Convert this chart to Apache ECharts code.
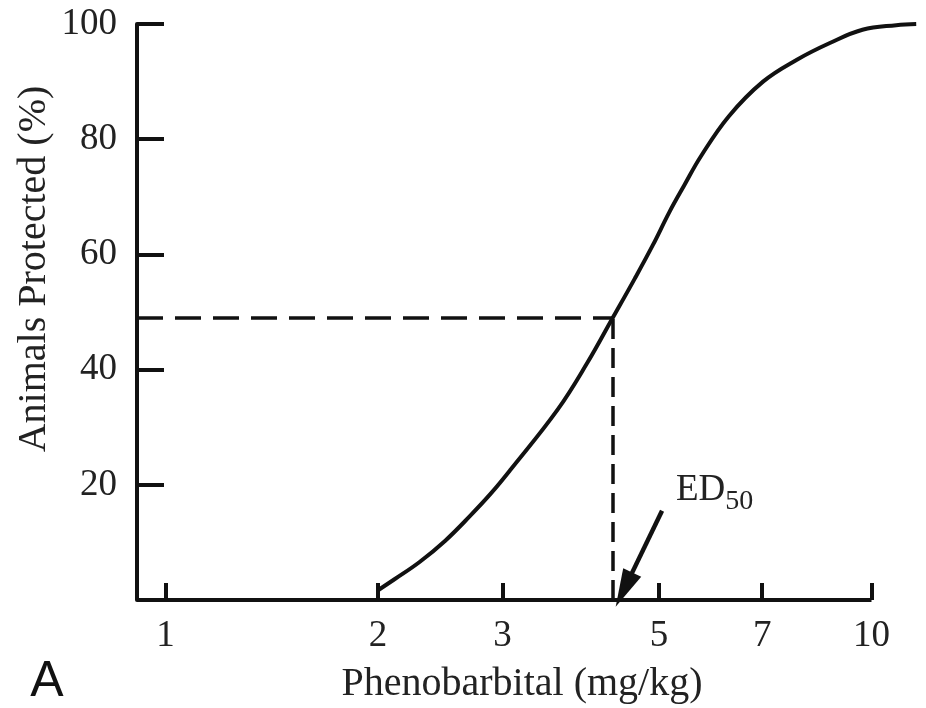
<!DOCTYPE html>
<html>
<head>
<meta charset="utf-8">
<title>Phenobarbital dose-response</title>
<script src="https://cdn.jsdelivr.net/npm/echarts@6.0.0/dist/echarts.min.js"></script>
<style>
  html, body { margin: 0; padding: 0; background: #fff; }
  #chart { width: 926px; height: 708px; }
</style>
</head>
<body>
<div id="chart"></div>
<script>
// dose (mg/kg) and % animals protected
const doses = [2.00, 2.11, 2.29, 2.49, 2.70, 2.89, 3.08, 3.59, 3.95, 4.30, 4.62, 4.90, 5.17, 5.43, 5.73, 6.28, 7.02, 7.84, 8.73, 9.71, 10.84, 11.57]
const protectedPct = [1.7, 3.6, 6.6, 10.3, 14.6, 18.5, 22.6, 33.0, 41.0, 49.0, 55.8, 61.6, 67.3, 72.0, 77.0, 84.0, 90.0, 93.8, 96.7, 99.0, 99.8, 100]
const xTicks = [1, 2, 3, 5, 7, 10]
const ed50Dose = 4.30
const ed50Pct = 49
// ED50 arrow, tail -> head
const arrowFrom = [5.05, 15.5]
const arrowTo = [4.46, 1.8]
// the curve runs a bit past the last tick, the axis line stops at 10
const xMin = 0.911
const xMax = 11.6
const axisEnd = 10

const serif = '"Liberation Serif", "Times New Roman", serif'
const ink = '#111'
const textInk = '#222'

const chartDom = document.getElementById('chart')
const myChart = echarts.init(chartDom)

const curve = doses.map((d, i) => [d, protectedPct[i]])

let option = {
  animation: false,
  grid: {
    left: 137,
    right: 9,
    top: 24,
    bottom: 108,
    outerBoundsMode: 'none'
  },
  xAxis: {
    type: 'log',
    logBase: 10,
    min: xMin,
    max: xMax,
    axisLine: { show: false },
    axisTick: {
      show: true,
      inside: true,
      length: 17,
      customValues: xTicks,
      lineStyle: { color: ink, width: 4 }
    },
    axisLabel: {
      customValues: xTicks,
      margin: 18,
      fontSize: 37,
      fontFamily: serif,
      color: textInk
    },
    splitLine: { show: false },
    minorTick: { show: false }
  },
  yAxis: {
    type: 'value',
    min: 0,
    max: 100,
    interval: 20,
    axisLine: { show: true, lineStyle: { color: ink, width: 4 } },
    axisTick: {
      show: true,
      inside: true,
      length: 27,
      lineStyle: { color: ink, width: 4 }
    },
    axisLabel: {
      margin: 20,
      fontSize: 37,
      fontFamily: serif,
      color: textInk,
      formatter: function (v) { return v === 0 ? '' : String(v) }
    },
    splitLine: { show: false }
  },
  series: [
    {
      name: 'Animals Protected',
      type: 'line',
      data: curve,
      smooth: 0.4,
      showSymbol: false,
      clip: false,
      lineStyle: { color: ink, width: 4 },
      markLine: {
        silent: true,
        animation: false,
        symbol: 'none',
        label: { show: false },
        data: [
          // x axis line, stopping at the last tick
          [
            { coord: [xMin, 0], lineStyle: { color: ink, width: 4, type: 'solid' } },
            { coord: [axisEnd, 0] }
          ],
          [
            { coord: [xMin, ed50Pct], lineStyle: { color: ink, width: 3.5, type: [26, 12] } },
            { coord: [ed50Dose, ed50Pct] }
          ],
          [
            { coord: [ed50Dose, 0], lineStyle: { color: ink, width: 3.5, type: [20, 9] } },
            { coord: [ed50Dose, ed50Pct] }
          ],
          [
            { coord: arrowFrom, symbol: 'none', lineStyle: { color: ink, width: 4.5, type: 'solid' } },
            { coord: arrowTo, symbol: 'triangle', symbolSize: [20, 38] }
          ]
        ]
      }
    }
  ],
  graphic: [
    {
      type: 'text',
      x: 34,
      y: 269,
      rotation: Math.PI / 2,
      style: {
        text: 'Animals Protected (%)',
        font: '40px ' + serif,
        fill: textInk,
        align: 'center',
        verticalAlign: 'middle'
      }
    },
    {
      type: 'text',
      x: 522,
      y: 684,
      style: {
        text: 'Phenobarbital (mg/kg)',
        font: '40px ' + serif,
        fill: textInk,
        align: 'center',
        verticalAlign: 'middle'
      }
    },
    {
      type: 'text',
      x: 47,
      y: 682,
      style: {
        text: 'A',
        font: '50px "Liberation Sans", Arial, sans-serif',
        fill: ink,
        align: 'center',
        verticalAlign: 'middle'
      }
    },
    {
      type: 'text',
      x: 676,
      y: 490,
      style: {
        text: '{a|ED}{b|50}',
        align: 'left',
        verticalAlign: 'middle',
        rich: {
          a: { fontSize: 37, fontFamily: serif, fill: textInk, color: textInk },
          b: { fontSize: 28, fontFamily: serif, fill: textInk, color: textInk, padding: [24, 0, 0, 0] }
        }
      }
    }
  ]
}
option && myChart.setOption(option)
</script>
</body>
</html>
